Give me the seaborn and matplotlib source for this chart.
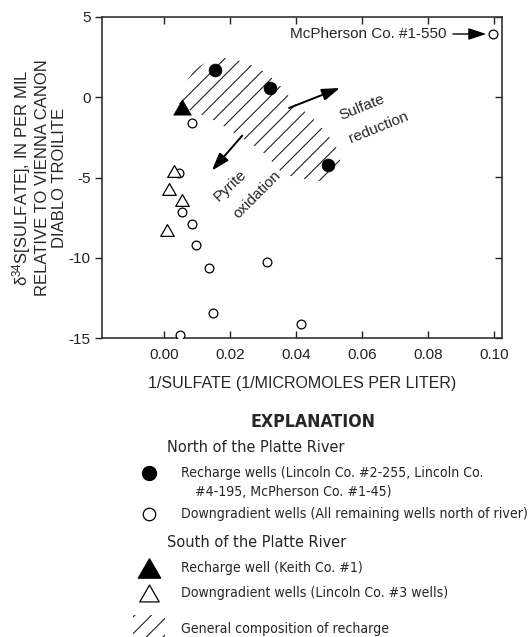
import numpy as np
import pandas as pd
import seaborn as sns
import matplotlib
matplotlib.use("Agg")
import matplotlib.pyplot as plt
from matplotlib.patches import Polygon, Rectangle
from matplotlib.path import Path
from matplotlib import font_manager as fm

# ---------------- data ----------------
rech_n_x = [0.0154, 0.0320, 0.0495]
rech_n_y = [1.70, 0.56, -4.21]
down_n_x = [0.0997, 0.0083, 0.0045, 0.0055, 0.0083, 0.0096, 0.0136, 0.0311, 0.0146, 0.0415, 0.0049]
down_n_y = [3.94, -1.62, -4.73, -7.16, -7.88, -9.23, -10.64, -10.29, -13.42, -14.11, -14.79]
rech_s_x = [0.0053]
rech_s_y = [-0.58]
down_s_x = [0.0029, 0.0014, 0.0053, 0.0009]
down_s_y = [-4.57, -5.71, -6.43, -8.26]

# outline of the hatched "general composition of recharge" field
recharge_x = [0.0042, 0.0093, 0.0138, 0.0184, 0.0245, 0.0305, 0.0351, 0.0396, 0.0447, 0.0488,
              0.0518, 0.0533, 0.0533, 0.0502, 0.0457, 0.0390, 0.0351, 0.0305, 0.0265, 0.0223,
              0.0178, 0.0132, 0.0087, 0.0057, 0.0038]
recharge_y = [0.21, 1.76, 2.32, 2.45, 2.20, 1.57, 0.72, -0.42, -1.24, -2.18,
              -2.91, -3.95, -4.78, -5.21, -5.21, -4.98, -4.59, -3.53, -2.91, -2.39,
              -1.77, -1.23, -0.91, -0.60, -0.29]

x_ticks = [0.00, 0.02, 0.04, 0.06, 0.08, 0.10]
x_ticklabels = ["0.00", "0.02", "0.04", "0.06", "0.08", "0.10"]
y_ticks = [-15, -10, -5, 0, 5]
y_ticklabels = ["-15", "-10", "-5", "0", "5"]

# ---------------- style ----------------
sns.set_style("ticks")
plt.rcParams["font.family"] = ["Liberation Sans", "DejaVu Sans"]
plt.rcParams["mathtext.fontset"] = "custom"
plt.rcParams["mathtext.rm"] = "Liberation Sans"
plt.rcParams["mathtext.it"] = "Liberation Sans:italic"
plt.rcParams["axes.unicode_minus"] = False
plt.rcParams["hatch.linewidth"] = 0.8
plt.rcParams["hatch.color"] = "#222222"


def find_condensed(bold=False):
    """Return a FontProperties for a condensed sans font if one is installed."""
    want_w = 700 if bold else 400
    names = ["Liberation Sans Narrow", "Roboto Condensed", "Open Sans Condensed",
             "Noto Sans Condensed", "Arial Narrow"]
    best = None
    for f in fm.fontManager.ttflist:
        w = f.weight if isinstance(f.weight, int) else (700 if "bold" in str(f.weight) else 400)
        st = str(f.stretch)
        is_cond = f.name in names or ("condensed" in st and "semi" not in st and "extra" not in st
                                       and "ultra" not in st)
        if not is_cond or f.style != "normal":
            continue
        score = abs(w - want_w)
        if best is None or score < best[0]:
            best = (score, f.fname)
    if best is None:
        return None
    return best[1]


cond_reg = find_condensed(False)
cond_bold = find_condensed(True)

W, H = 530, 637
fig = plt.figure(figsize=(W / 100, H / 100), dpi=100)
ax = fig.add_axes([101.6 / W, 1 - 338 / H, (502 - 101.6) / W, (338 - 17) / H])

# hatched recharge field
poly = Polygon(np.column_stack([recharge_x, recharge_y]), closed=True, fill=False,
               hatch="//", edgecolor="#222222", linewidth=0, zorder=1)
ax.add_patch(poly)

tri = Path([(0, 0.866), (-1, -0.866), (1, -0.866), (0, 0.866)],
           [Path.MOVETO, Path.LINETO, Path.LINETO, Path.CLOSEPOLY])

sns.scatterplot(x=down_n_x, y=down_n_y, ax=ax, marker="o", s=40, facecolor="white",
                edgecolor="black", linewidth=0.9, zorder=3)
sns.scatterplot(x=down_s_x, y=down_s_y, ax=ax, marker=tri, s=95, facecolor="white",
                edgecolor="black", linewidth=0.9, zorder=3)
sns.scatterplot(x=rech_n_x, y=rech_n_y, ax=ax, marker="o", s=85, color="black",
                edgecolor="black", linewidth=0.5, zorder=4)
sns.scatterplot(x=rech_s_x, y=rech_s_y, ax=ax, marker=tri, s=160, color="black",
                edgecolor="black", linewidth=0.5, zorder=4)

ax.set_xlim(-0.0190, 0.1023)
ax.set_ylim(-15, 5)
ax.set_xticks(x_ticks)
ax.set_xticklabels(x_ticklabels)
ax.set_yticks(y_ticks)
ax.set_yticklabels(y_ticklabels)
ax.tick_params(axis="x", direction="in", top=True, bottom=True, length=5, width=1,
               labelsize=11, pad=7, colors="#222222")
ax.tick_params(axis="y", direction="out", left=True, right=False, length=5, width=1,
               labelsize=11, pad=3, colors="#222222")
sec = ax.secondary_yaxis("right")
sec.set_yticks(y_ticks)
sec.tick_params(axis="y", direction="in", length=5, width=1, labelright=False, colors="#222222")
sec.spines["right"].set_visible(False)
for sp in ax.spines.values():
    sp.set_visible(True)
    sp.set_linewidth(1.2)
    sp.set_color("#333333")

ax.set_xlabel("1/SULFATE (1/MICROMOLES PER LITER)", fontsize=11.5, labelpad=10)
fig.text(38.5 / W, 1 - 177.5 / H,
         "δ$^{34}$S[SULFATE], IN PER MIL\nRELATIVE TO VIENNA CANON\nDIABLO TROILITE",
         rotation=90, ha="center", va="center", multialignment="center",
         fontsize=12, linespacing=1.2)

# annotations
arrow_kw = dict(arrowstyle="-|>,head_length=0.9,head_width=0.3", color="black", lw=1.4,
                shrinkA=0, shrinkB=0, mutation_scale=12)
ax.annotate("", xy=(0.0532, 0.58), xytext=(0.0378, -0.67), arrowprops=arrow_kw, zorder=5)
ax.annotate("", xy=(0.0144, -4.57), xytext=(0.0236, -2.39), arrowprops=arrow_kw, zorder=5)
ax.text(0.0598, -0.62, "Sulfate", rotation=22, ha="center", va="center", fontsize=11,
        rotation_mode="anchor")
ax.text(0.0649, -1.87, "reduction", rotation=22, ha="center", va="center", fontsize=11,
        rotation_mode="anchor")
ax.text(0.0200, -5.50, "Pyrite", rotation=43, ha="center", va="center", fontsize=11,
        rotation_mode="anchor")
ax.text(0.0282, -6.08, "oxidation", rotation=45, ha="center", va="center", fontsize=11,
        rotation_mode="anchor")
ax.annotate("McPherson Co. #1-550", xy=(0.0975, 3.94), xytext=(0.0856, 3.94),
            ha="right", va="center", fontsize=11,
            arrowprops=dict(arrowstyle="-|>,head_length=0.9,head_width=0.3", color="black",
                            lw=1.0, shrinkA=2, shrinkB=0, mutation_scale=12))

# ---------------- explanation ----------------
lax = fig.add_axes([0, 0, 1, 1], zorder=-1)
lax.set_xlim(0, W)
lax.set_ylim(H, 0)
lax.axis("off")


def fp(bold, size):
    fn = cond_bold if bold else cond_reg
    if fn is not None:
        return fm.FontProperties(fname=fn, size=size)
    return fm.FontProperties(family="Liberation Sans", weight="bold" if bold else "normal",
                             size=size)


t_expl = lax.text(313, 421.7, "EXPLANATION", ha="center", va="center", fontproperties=fp(True, 15))
t_north = lax.text(167, 447.7, "North of the Platte River", ha="left", va="center",
                   fontproperties=fp(False, 12.5))
t_south = lax.text(167, 542.7, "South of the Platte River", ha="left", va="center",
                   fontproperties=fp(False, 12.5))
entries = [
    (472.7, "Recharge wells (Lincoln Co. #2-255, Lincoln Co."),
    (514.0, "Downgradient wells (All remaining wells north of river)"),
    (568.3, "Recharge well (Keith Co. #1)"),
    (593.3, "Downgradient wells (Lincoln Co. #3 wells)"),
    (628.5, "General composition of recharge"),
]
entry_texts = []
for yy, t in entries:
    entry_texts.append(lax.text(181, yy, t, ha="left", va="center", fontproperties=fp(False, 12)))
entry_texts.append(lax.text(194.8, 491.7, "#4-195, McPherson Co. #1-45)", ha="left", va="center",
                            fontproperties=fp(False, 12)))

# fit sizes to the widths the reference shows
fig.canvas.draw()
r = fig.canvas.get_renderer()


def fit(texts, ref_text, target, cap):
    w = ref_text.get_window_extent(r).width
    size = min(cap, ref_text.get_fontsize() * target / w)
    for t in texts:
        t.set_fontsize(size)


fit([t_expl], t_expl, 125, 15.5)
fit([t_north, t_south], t_north, 179, 13)
fit(entry_texts, entry_texts[1], 345, 12.5)

lax.plot([149], [472.7], marker="o", ms=10, color="black", ls="none")
lax.plot([149], [514.0], marker="o", ms=9, mfc="white", mec="black", mew=0.9, ls="none")
lax.plot([149], [568.3], marker=tri, ms=16, color="black", ls="none")
lax.plot([149], [593.3], marker=tri, ms=14, mfc="white", mec="black", mew=0.9, ls="none")
lax.add_patch(Rectangle((133, 615), 32, 25, fill=False, hatch="//", edgecolor="#222222",
                        linewidth=0))

fig.savefig("out.png", dpi=100)
